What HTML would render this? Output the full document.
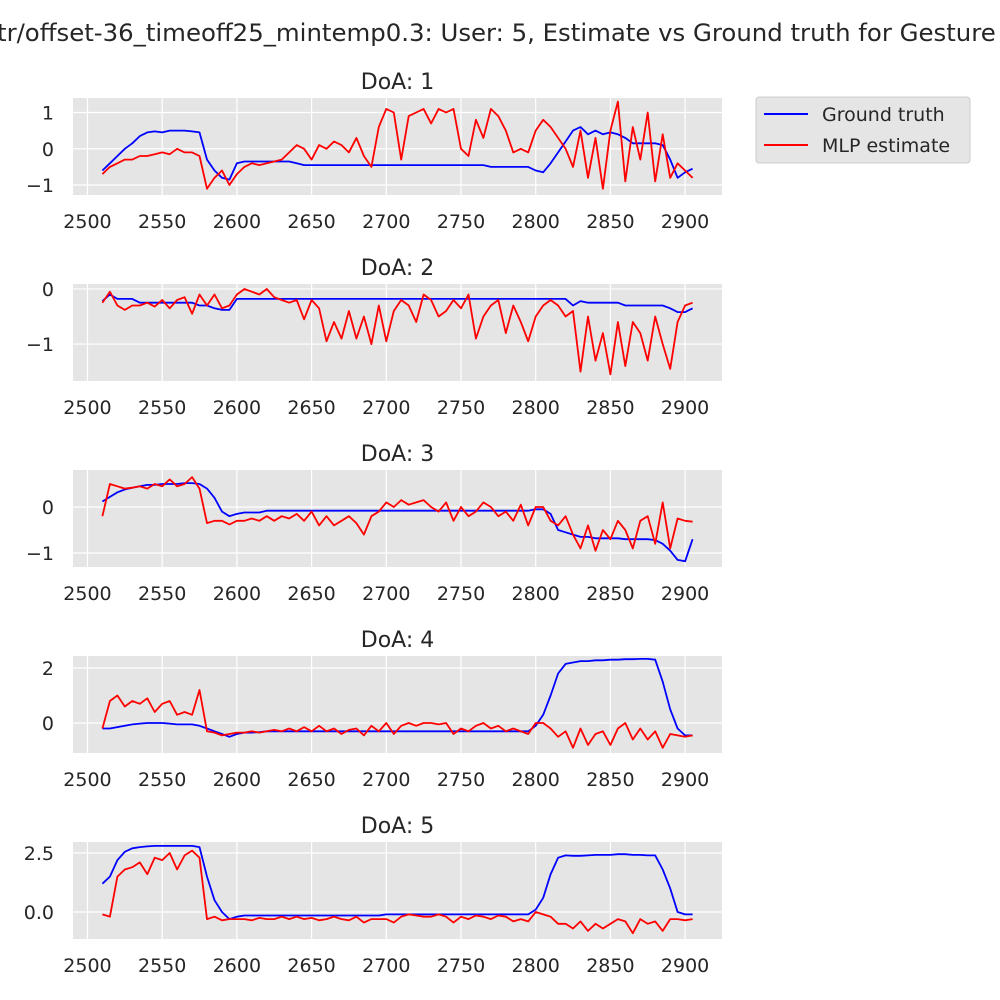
<!DOCTYPE html>
<html><head><meta charset="utf-8"><style>
html,body{margin:0;padding:0;background:#fff;}
svg{display:block;font-family:"DejaVu Sans","Liberation Sans",sans-serif;}
</style></head><body>
<svg id="fig" width="1000" height="1000" viewBox="0 0 1000 1000">
<text x="-3" y="41" font-size="24.4" fill="#262626">tr/offset-36_timeoff25_mintemp0.3: User: 5, Estimate vs Ground truth for Gesture</text>
<g>
<rect x="756" y="97" width="214" height="66" rx="3" fill="#e5e5e5" stroke="#cccccc"/>
<line x1="764" y1="114" x2="808" y2="114" stroke="blue" stroke-width="2"/>
<text x="822" y="121" font-size="19" fill="#262626">Ground truth</text>
<line x1="764" y1="145" x2="808" y2="145" stroke="red" stroke-width="2"/>
<text x="822" y="152" font-size="19" fill="#262626">MLP estimate</text>
</g>
</svg>
<script>
const xStart = 2510, xStep = 5;
const xTicks = [2500,2550,2600,2650,2700,2750,2800,2850,2900];
const titles = ["DoA: 1","DoA: 2","DoA: 3","DoA: 4","DoA: 5"];
const blue1 = [-0.6,-0.4,-0.2,0.0,0.15,0.35,0.45,0.48,0.45,0.5,0.5,0.5,0.48,0.45,-0.3,-0.6,-0.8,-0.85,
-0.4,-0.35,-0.35,-0.35,-0.35,-0.35,-0.35,-0.35,-0.4,
-0.45,-0.45,-0.45,-0.45,-0.45,-0.45,-0.45,-0.45,-0.45,-0.45,-0.45,-0.45,-0.45,-0.45,-0.45,-0.45,-0.45,-0.45,-0.45,-0.45,-0.45,-0.45,-0.45,-0.45,-0.45,
-0.5,-0.5,-0.5,-0.5,-0.5,-0.5,
-0.6,-0.65,-0.4,-0.1,0.2,0.5,0.6,0.4,0.5,0.4,0.45,0.4,0.3,0.15,0.15,0.15,0.15,0.1,-0.3,-0.8,-0.65,-0.55];
const red1 = [-0.7,-0.5,-0.4,-0.3,-0.3,-0.2,-0.2,-0.15,-0.1,-0.15,0,-0.1,-0.1,-0.2,-1.1,-0.8,-0.6,-1.0,
-0.7,-0.5,-0.4,-0.45,-0.4,-0.35,-0.3,-0.1,0.1,0.0,-0.3,0.1,0.0,0.2,0.1,-0.1,0.3,-0.2,-0.5,0.6,
1.1,1.0,-0.3,0.9,1.0,1.1,0.7,1.1,1.0,1.1,0.0,-0.2,0.8,0.3,1.1,0.9,0.5,-0.1,0.0,-0.1,
0.5,0.8,0.6,0.3,0.0,-0.5,0.5,-0.8,0.3,-1.1,0.5,1.3,-0.9,0.6,-0.3,1.0,-0.9,0.4,-0.8,-0.4,-0.6,-0.8];
const blue2 = [-0.22,-0.1,-0.18,-0.18,-0.18,-0.25,-0.25,-0.25,-0.25,-0.25,-0.25,-0.25,-0.25,-0.3,-0.3,-0.35,-0.38,-0.38,
-0.18,-0.18,-0.18,-0.18,-0.18,-0.18,-0.18,-0.18,-0.18,-0.18,-0.18,-0.18,-0.18,-0.18,-0.18,-0.18,-0.18,-0.18,-0.18,-0.18,-0.18,-0.18,-0.18,-0.18,-0.18,-0.18,-0.18,-0.18,-0.18,-0.18,-0.18,-0.18,-0.18,-0.18,-0.18,-0.18,-0.18,-0.18,-0.18,-0.18,-0.18,-0.18,-0.18,-0.18,-0.18,
-0.3,-0.22,-0.25,-0.25,-0.25,-0.25,-0.25,-0.3,-0.3,-0.3,-0.3,-0.3,-0.3,-0.35,-0.42,-0.42,-0.35];
const red2 = [-0.25,-0.05,-0.3,-0.38,-0.3,-0.3,-0.25,-0.32,-0.2,-0.35,-0.2,-0.15,-0.45,-0.1,-0.3,-0.1,-0.35,-0.3,
-0.1,0.0,-0.05,-0.1,0.0,-0.15,-0.2,-0.25,-0.2,-0.55,-0.2,-0.35,-0.95,-0.6,-0.9,-0.4,-0.9,-0.5,-1.0,-0.3,
-0.95,-0.4,-0.2,-0.3,-0.6,-0.1,-0.2,-0.5,-0.4,-0.2,-0.35,-0.1,-0.9,-0.5,-0.3,-0.2,-0.8,-0.3,-0.6,-0.95,
-0.5,-0.3,-0.2,-0.3,-0.5,-0.4,-1.5,-0.5,-1.3,-0.8,-1.55,-0.6,-1.4,-0.6,-0.8,-1.3,-0.5,-1.0,-1.45,-0.6,-0.3,-0.25];
const blue3 = [0.12,0.22,0.32,0.38,0.42,0.45,0.48,0.48,0.5,0.5,0.5,0.52,0.52,0.5,0.4,0.2,-0.1,-0.2,
-0.15,-0.12,-0.12,-0.12,
-0.08,-0.08,-0.08,-0.08,-0.08,-0.08,-0.08,-0.08,-0.08,-0.08,-0.08,-0.08,-0.08,-0.08,-0.08,-0.08,-0.08,-0.08,-0.08,-0.08,-0.08,-0.08,-0.08,-0.08,-0.08,-0.08,-0.08,-0.08,-0.08,-0.08,-0.08,-0.08,-0.08,-0.08,-0.08,-0.08,
-0.05,-0.05,-0.15,-0.5,-0.55,-0.6,-0.65,-0.65,-0.68,-0.68,-0.68,-0.68,-0.7,-0.7,-0.7,-0.7,-0.72,-0.8,-0.95,-1.15,-1.18,-0.7];
const red3 = [-0.2,0.5,0.45,0.4,0.42,0.45,0.4,0.5,0.45,0.6,0.45,0.5,0.65,0.4,-0.35,-0.3,-0.3,-0.38,
-0.3,-0.3,-0.25,-0.3,-0.2,-0.3,-0.2,-0.25,-0.15,-0.3,-0.1,-0.4,-0.2,-0.4,-0.3,-0.2,-0.35,-0.6,-0.2,-0.1,
0.1,0.0,0.15,0.05,0.1,0.15,0.0,-0.1,0.1,-0.3,0.0,-0.2,-0.1,0.1,0.0,-0.2,-0.1,-0.3,0.05,-0.4,
0.0,0.0,-0.3,-0.4,-0.2,-0.6,-0.9,-0.4,-0.95,-0.5,-0.7,-0.3,-0.5,-0.9,-0.3,-0.2,-0.8,0.1,-0.9,-0.25,-0.3,-0.32];
const blue4 = [-0.2,-0.2,-0.15,-0.1,-0.05,-0.02,0,0,0,-0.02,-0.05,-0.05,-0.05,-0.1,-0.2,-0.3,-0.4,-0.5,
-0.4,-0.35,-0.35,-0.33,
-0.3,-0.3,-0.3,-0.3,-0.3,-0.3,-0.3,-0.3,-0.3,-0.3,-0.3,-0.3,-0.3,-0.3,-0.3,-0.3,-0.3,-0.3,-0.3,-0.3,-0.3,-0.3,-0.3,-0.3,-0.3,-0.3,-0.3,-0.3,-0.3,-0.3,-0.3,-0.3,-0.3,-0.3,-0.3,-0.3,
-0.1,0.3,1.0,1.8,2.15,2.2,2.25,2.25,2.28,2.28,2.3,2.3,2.32,2.32,2.33,2.33,2.3,1.5,0.5,-0.2,-0.45,-0.45];
const red4 = [-0.2,0.8,1.0,0.6,0.8,0.7,0.9,0.4,0.7,0.8,0.3,0.4,0.3,1.2,-0.3,-0.35,-0.45,-0.4,
-0.35,-0.35,-0.3,-0.35,-0.3,-0.25,-0.3,-0.2,-0.3,-0.15,-0.3,-0.1,-0.3,-0.2,-0.4,-0.25,-0.2,-0.45,-0.1,-0.3,
0.0,-0.4,-0.1,0.0,-0.1,0.0,0.0,-0.05,0.0,-0.4,-0.2,-0.3,-0.1,0.0,-0.2,-0.1,-0.3,-0.2,-0.3,-0.4,
0.0,0.0,-0.2,-0.5,-0.3,-0.9,-0.2,-0.8,-0.4,-0.3,-0.8,-0.2,0.0,-0.6,-0.2,-0.6,-0.3,-0.9,-0.4,-0.45,-0.5,-0.45];
const blue5 = [1.2,1.5,2.2,2.55,2.7,2.75,2.78,2.8,2.8,2.8,2.8,2.8,2.8,2.75,1.5,0.5,0.0,-0.3,
-0.2,-0.15,-0.15,-0.15,-0.15,-0.15,-0.15,-0.15,-0.15,-0.15,-0.15,-0.15,-0.15,-0.15,-0.15,-0.15,-0.15,-0.15,-0.15,-0.15,
-0.1,-0.1,-0.1,-0.1,-0.1,-0.1,-0.1,-0.1,-0.1,-0.1,-0.1,-0.1,-0.1,-0.1,-0.1,-0.1,-0.1,-0.1,-0.1,-0.1,
0.1,0.6,1.6,2.3,2.4,2.38,2.38,2.4,2.42,2.42,2.42,2.45,2.45,2.42,2.42,2.4,2.4,1.8,1.0,0.0,-0.1,-0.1];
const red5 = [-0.1,-0.2,1.5,1.8,1.9,2.1,1.6,2.3,2.2,2.5,1.8,2.4,2.6,2.3,-0.3,-0.2,-0.35,-0.3,
-0.3,-0.3,-0.35,-0.25,-0.3,-0.3,-0.2,-0.3,-0.2,-0.3,-0.25,-0.35,-0.3,-0.2,-0.3,-0.35,-0.2,-0.45,-0.3,-0.3,
-0.3,-0.45,-0.2,-0.1,-0.15,-0.2,-0.2,-0.1,-0.2,-0.45,-0.2,-0.3,-0.15,-0.2,-0.3,-0.15,-0.2,-0.4,-0.3,-0.4,
0.0,-0.1,-0.2,-0.5,-0.5,-0.7,-0.4,-0.8,-0.5,-0.7,-0.5,-0.3,-0.4,-0.9,-0.3,-0.5,-0.4,-0.8,-0.3,-0.3,-0.35,-0.3];
const yTicks1 = [1,0,-1], yTickLabels1 = ["1","0","\u22121"];
const yTicks2 = [0,-1], yTickLabels2 = ["0","\u22121"];
const yTicks3 = [0,-1], yTickLabels3 = ["0","\u22121"];
const yTicks4 = [2,0], yTickLabels4 = ["2","0"];
const yTicks5 = [2.5,0], yTickLabels5 = ["2.5","0.0"];

const NS = "http://www.w3.org/2000/svg";
const svg = document.getElementById('fig');
const L = 73, R = 722, XMIN = 2490.3, XMAX = 2924.7;
const panels = [
 {top:98,bot:195,ymax:1.4,ymin:-1.275,blue:blue1,red:red1,ticks:yTicks1,labels:yTickLabels1},
 {top:284,bot:381,ymax:0.09,ymin:-1.67,blue:blue2,red:red2,ticks:yTicks2,labels:yTickLabels2},
 {top:470,bot:567,ymax:0.804,ymin:-1.304,blue:blue3,red:red3,ticks:yTicks3,labels:yTickLabels3},
 {top:656,bot:753,ymax:2.436,ymin:-1.09,blue:blue4,red:red4,ticks:yTicks4,labels:yTickLabels4},
 {top:842,bot:939,ymax:2.966,ymin:-1.144,blue:blue5,red:red5,ticks:yTicks5,labels:yTickLabels5}
];
function el(tag, attrs, parent){const e=document.createElementNS(NS,tag);for(const k in attrs)e.setAttribute(k,attrs[k]);parent.appendChild(e);return e;}
const xs = v => L + (v - XMIN) / (XMAX - XMIN) * (R - L);
panels.forEach((p, pi) => {
  const ys = v => p.bot - (v - p.ymin) / (p.ymax - p.ymin) * (p.bot - p.top);
  const g = el('g', {}, svg);
  
  
  const bg = el('rect', {x:L, y:p.top, width:R-L, height:p.bot-p.top, fill:'#e5e5e5'}, g);
  
  
  xTicks.forEach(t => {
    const x = xs(t);
    const gl = el('line', {x1:x, x2:x, y1:p.top, y2:p.bot, stroke:'#fff', 'stroke-width':1.2}, g);
    
    
    const tl = el('text', {x:x, y:p.bot+33, 'text-anchor':'middle', 'font-size':19, fill:'#262626'}, g);
    tl.textContent = t;
    
    
  });
  p.ticks.forEach((t, i) => {
    const y = ys(t);
    const gl = el('line', {x1:L, x2:R, y1:y, y2:y, stroke:'#fff', 'stroke-width':1.2}, g);
    
    
    const tl = el('text', {x:L-19, y:y+7, 'text-anchor':'end', 'font-size':19, fill:'#262626'}, g);
    tl.textContent = p.labels[i];
    
    
  });
  const tt = el('text', {x:(L+R)/2, y:p.top-9, 'text-anchor':'middle', 'font-size':22, fill:'#262626'}, g);
  tt.textContent = titles[pi];
  
  
  [['blue', p.blue, 'ground-truth-line'], ['red', p.red, 'mlp-estimate-line']].forEach(([c, arr, nm]) => {
    const pts = arr.map((v, i) => xs(xStart + i*xStep).toFixed(1) + ',' + ys(v).toFixed(1)).join(' ');
    const pl = el('polyline', {points:pts, fill:'none', stroke:c, 'stroke-width':1.8, 'stroke-linejoin':'round'}, g);
    
    
  });
});
</script>
</body></html>
